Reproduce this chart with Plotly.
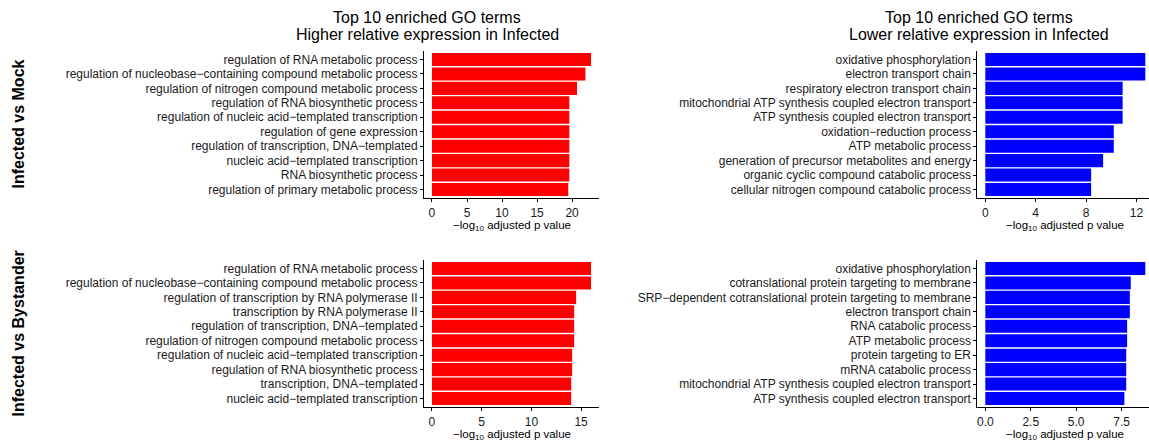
import plotly.graph_objects as go

W, H = 1149, 445

# ---- data ----
mock_up_terms = [
    "regulation of RNA metabolic process",
    "regulation of nucleobase−containing compound metabolic process",
    "regulation of nitrogen compound metabolic process",
    "regulation of RNA biosynthetic process",
    "regulation of nucleic acid−templated transcription",
    "regulation of gene expression",
    "regulation of transcription, DNA−templated",
    "nucleic acid−templated transcription",
    "RNA biosynthetic process",
    "regulation of primary metabolic process",
]
mock_up_values = [22.7, 21.9, 20.7, 19.6, 19.6, 19.6, 19.6, 19.6, 19.6, 19.45]

mock_down_terms = [
    "oxidative phosphorylation",
    "electron transport chain",
    "respiratory electron transport chain",
    "mitochondrial ATP synthesis coupled electron transport",
    "ATP synthesis coupled electron transport",
    "oxidation−reduction process",
    "ATP metabolic process",
    "generation of precursor metabolites and energy",
    "organic cyclic compound catabolic process",
    "cellular nitrogen compound catabolic process",
]
mock_down_values = [12.7, 12.7, 10.9, 10.9, 10.9, 10.2, 10.2, 9.35, 8.4, 8.4]

bys_up_terms = [
    "regulation of RNA metabolic process",
    "regulation of nucleobase−containing compound metabolic process",
    "regulation of transcription by RNA polymerase II",
    "transcription by RNA polymerase II",
    "regulation of transcription, DNA−templated",
    "regulation of nitrogen compound metabolic process",
    "regulation of nucleic acid−templated transcription",
    "regulation of RNA biosynthetic process",
    "transcription, DNA−templated",
    "nucleic acid−templated transcription",
]
bys_up_values = [16.0, 16.0, 14.5, 14.3, 14.3, 14.3, 14.1, 14.1, 14.0, 14.0]

bys_down_terms = [
    "oxidative phosphorylation",
    "cotranslational protein targeting to membrane",
    "SRP−dependent cotranslational protein targeting to membrane",
    "electron transport chain",
    "RNA catabolic process",
    "ATP metabolic process",
    "protein targeting to ER",
    "mRNA catabolic process",
    "mitochondrial ATP synthesis coupled electron transport",
    "ATP synthesis coupled electron transport",
]
bys_down_values = [8.8, 8.0, 7.95, 7.95, 7.8, 7.8, 7.75, 7.75, 7.75, 7.65]

tick_sets = [
    [0, 5, 10, 15, 20],
    [0, 4, 8, 12],
    [0, 5, 10, 15],
    [0, 2.5, 5, 7.5],
]
tick_formats = ["d", "d", "d", ".1f"]

row_labels = ["Infected vs Mock", "Infected vs Bystander"]
title_line1 = "Top 10 enriched GO terms"
col_subtitles = [
    "Higher relative expression in Infected",
    "Lower relative expression in Infected",
]
x_title = "−log<sub>10</sub> adjusted p value"

RED = "#FF0000"
BLUE = "#0000FF"

# ---- layout geometry (pixels) ----
col_x = [(424, 599), (977.3, 1149)]
full_w = 176  # intended panel width (right panels are clipped by the canvas)
row_y = [(50.8, 198.2), (259.8, 407.2)]

def px_x(x):
    return x / W

def px_y(y):
    return 1 - y / H

panels = [
    (mock_up_terms, mock_up_values, RED, 0, 0),
    (mock_down_terms, mock_down_values, BLUE, 0, 1),
    (bys_up_terms, bys_up_values, RED, 1, 0),
    (bys_down_terms, bys_down_values, BLUE, 1, 1),
]

fig = go.Figure()
layout = dict(
    template="none",
    width=W, height=H,
    margin=dict(l=0, r=0, t=0, b=0, pad=0, autoexpand=False),
    paper_bgcolor="white", plot_bgcolor="white",
    showlegend=False,
    bargap=0.1,
    font=dict(family="Liberation Sans, Arial, sans-serif", color="black"),
)
annotations = []

for i, (terms, vals, color, r, c) in enumerate(panels):
    n = i + 1
    xa = "x" if n == 1 else f"x{n}"
    ya = "y" if n == 1 else f"y{n}"
    fig.add_trace(go.Bar(
        x=vals, y=terms, orientation="h",
        marker=dict(color=color, line=dict(width=0)),
        xaxis=xa, yaxis=ya, hoverinfo="x+y",
    ))
    m = max(vals)
    x0, x1 = col_x[c]
    vis_w = x1 - x0
    if c == 1:
        ppu = full_w / (1.1 * m)
        rng = [-0.05 * m, -0.05 * m + vis_w / ppu]
    else:
        rng = [-0.05 * m, 1.05 * m]
    y0, y1 = row_y[r]
    xkey = "xaxis" if n == 1 else f"xaxis{n}"
    ykey = "yaxis" if n == 1 else f"yaxis{n}"
    layout[xkey] = dict(
        domain=[px_x(x0), min(1.0, px_x(x1))],
        anchor=ya, range=rng, automargin=False,
        showgrid=False, zeroline=False,
        showline=True, linecolor="black", linewidth=1,
        ticks="outside", ticklen=3, tickcolor="black", tickwidth=1,
        tickvals=tick_sets[i], tickformat=tick_formats[i],
        tickfont=dict(size=12, color="#1a1a1a"),
        fixedrange=True,
    )
    layout[ykey] = dict(
        domain=[px_y(y1), px_y(y0)],
        anchor=xa, type="category", automargin=False,
        categoryorder="array", categoryarray=terms,
        range=[9.6, -0.6],
        showgrid=False, zeroline=False,
        showline=True, linecolor="black", linewidth=1,
        ticks="outside", ticklen=3, tickcolor="black", tickwidth=1,
        tickfont=dict(size=12, color="#1a1a1a"),
        fixedrange=True,
    )
    # x-axis title
    annotations.append(dict(
        text=x_title, xref="paper", yref="paper",
        x=px_x(x0 + full_w / 2 if c == 1 else (x0 + x1) / 2),
        y=px_y(y1 + 28), xanchor="center", yanchor="middle",
        showarrow=False, font=dict(size=11.5),
    ))

# column titles (two lines)
for c, sub in enumerate(col_subtitles):
    cx = px_x([427, 979][c])
    annotations.append(dict(
        text=title_line1, xref="paper", yref="paper",
        x=cx, y=px_y(17), xanchor="center", yanchor="middle",
        showarrow=False, font=dict(size=16),
    ))
    annotations.append(dict(
        text=sub, xref="paper", yref="paper",
        x=cx, y=px_y(35), xanchor="center", yanchor="middle",
        showarrow=False, font=dict(size=16),
    ))

# row labels
for r, t in enumerate(row_labels):
    annotations.append(dict(
        text=f"<b>{t}</b>", xref="paper", yref="paper",
        x=px_x(18), y=px_y((row_y[r][0] + row_y[r][1]) / 2),
        xanchor="center", yanchor="middle", textangle=-90,
        showarrow=False, font=dict(size=16),
    ))

layout["annotations"] = annotations
fig.update_layout(**layout)
fig.write_html(
    "out.html",
    config={"displayModeBar": False},
    post_script="document.body.style.margin='0px';document.body.style.overflow='hidden';",
)
